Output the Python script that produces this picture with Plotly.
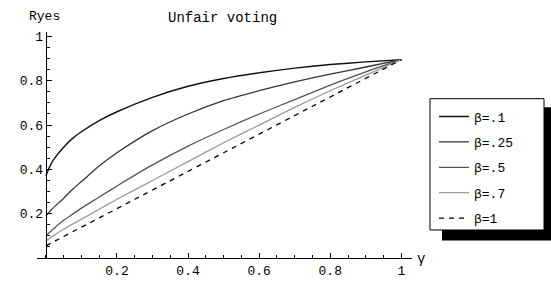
import plotly.graph_objects as go

# Data
gamma = [0, 0.01, 0.02, 0.05, 0.075, 0.1, 0.15, 0.2, 0.3, 0.4, 0.5, 0.6, 0.7, 0.8, 0.9, 1.0]
r_b010 = [0.37, 0.41, 0.44, 0.50, 0.54, 0.57, 0.62, 0.66, 0.725, 0.775, 0.81, 0.836, 0.857, 0.873, 0.885, 0.895]
r_b025 = [0.19, 0.208, 0.225, 0.27, 0.31, 0.345, 0.415, 0.475, 0.575, 0.65, 0.71, 0.755, 0.795, 0.83, 0.862, 0.895]
r_b050 = [0.10, 0.115, 0.13, 0.17, 0.198, 0.225, 0.275, 0.325, 0.42, 0.505, 0.58, 0.65, 0.715, 0.78, 0.84, 0.895]
r_b070 = [0.077, 0.089, 0.10, 0.13, 0.153, 0.175, 0.22, 0.265, 0.35, 0.435, 0.52, 0.60, 0.68, 0.755, 0.825, 0.895]
gamma_b100 = [0, 0.25, 0.5, 0.75, 1.0]
r_b100 = [0.055, 0.265, 0.475, 0.685, 0.895]

series_names = ["β=.1", "β=.25", "β=.5", "β=.7", "β=1"]
tick_vals = [0.2, 0.4, 0.6, 0.8, 1]
tick_text = ["0.2", "0.4", "0.6", "0.8", "1"]

FONT = "Liberation Mono"
W, H = 551, 291
ML, MR, MT, MB = 37, 139, 32, 25
XR = [-0.025, 1.03]
YR = [0, 1.02]

fig = go.Figure()
styles = [
    dict(color="#111111", width=1.4),
    dict(color="#333333", width=1.3),
    dict(color="#555555", width=1.3),
    dict(color="#9a9a9a", width=1.3),
    dict(color="#000000", width=1.3, dash="5px,5px"),
]
xs = [gamma, gamma, gamma, gamma, gamma_b100]
ys = [r_b010, r_b025, r_b050, r_b070, r_b100]
for i in range(5):
    fig.add_trace(go.Scatter(
        x=xs[i], y=ys[i], mode="lines", name=series_names[i],
        line=dict(shape="spline", smoothing=0.6, **styles[i]),
        legendgroup=f"g{i}", showlegend=True,
    ))

pw = W - ML - MR
ph = H - MT - MB
def px_x(p):
    return (p - ML) / pw
def px_y(p):
    return (H - MB - p) / ph

x0_frac = (0 - XR[0]) / (XR[1] - XR[0])

fig.update_layout(
    width=W, height=H,
    margin=dict(l=ML, r=MR, t=MT, b=MB),
    paper_bgcolor="white", plot_bgcolor="white",
    font=dict(family=FONT, size=13, color="black"),
    xaxis=dict(
        range=XR, showgrid=False, zeroline=False,
        showline=True, linecolor="black", linewidth=1.2,
        tickvals=tick_vals, ticktext=tick_text,
        ticks="inside", ticklen=5, tickcolor="black", tickwidth=1,
        minor=dict(dtick=0.05, tick0=0, ticks="inside", ticklen=3, tickcolor="black", showgrid=False),
        tickfont=dict(family=FONT, size=13),
        anchor="y",
    ),
    yaxis=dict(
        range=YR, showgrid=False, zeroline=False,
        showline=True, linecolor="black", linewidth=1.2,
        tickvals=tick_vals, ticktext=tick_text,
        ticks="inside", ticklen=5, tickcolor="black", tickwidth=1,
        minor=dict(dtick=0.05, tick0=0, ticks="inside", ticklen=3, tickcolor="black", showgrid=False),
        tickfont=dict(family=FONT, size=13),
        anchor="free", position=x0_frac,
    ),
    legend=dict(
        x=px_x(434), y=px_y(104), xanchor="left", yanchor="top",
        bgcolor="rgba(0,0,0,0)", borderwidth=0,
        font=dict(family=FONT, size=13),
        tracegroupgap=5.5, itemwidth=30,
    ),
    showlegend=True,
)

# legend frame with drop shadow
fig.add_shape(type="rect", xref="paper", yref="paper",
              x0=px_x(442), x1=px_x(551), y0=px_y(248), y1=px_y(110),
              fillcolor="black", line=dict(width=0), layer="above")
fig.add_shape(type="rect", xref="paper", yref="paper",
              x0=px_x(430), x1=px_x(544), y0=px_y(237), y1=px_y(101),
              fillcolor="white", line=dict(color="black", width=1), layer="above")

fig.add_annotation(text="Ryes", xref="paper", yref="paper", x=px_x(44), y=px_y(16),
                   showarrow=False, font=dict(family=FONT, size=13), xanchor="center", yanchor="middle")
fig.add_annotation(text="Unfair voting", xref="paper", yref="paper", x=px_x(222), y=px_y(17),
                   showarrow=False, font=dict(family=FONT, size=14), xanchor="center", yanchor="middle")
fig.add_annotation(text="γ", xref="paper", yref="paper", x=px_x(421), y=px_y(267),
                   showarrow=False, font=dict(family=FONT, size=14), xanchor="center", yanchor="middle")

fig.write_html("out.html", config={"displayModeBar": False},
               post_script="document.body.style.margin='0';")
